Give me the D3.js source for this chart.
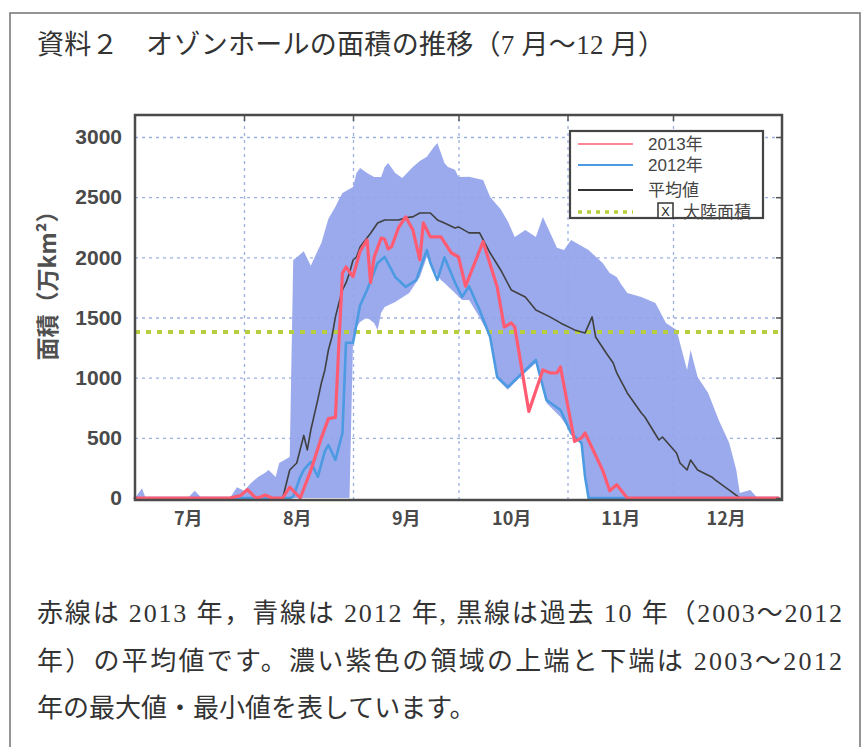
<!DOCTYPE html>
<html>
<head>
<meta charset="utf-8" />
<title>オゾンホールの面積の推移</title>
<script src="https://cdn.jsdelivr.net/npm/d3@7/dist/d3.min.js"></script>
<style>
    body { margin: 0; background: #fff; }
    svg { display: block; }
    .grid line { stroke: #9db0e4; stroke-width: 1.3; stroke-dasharray: 3,4; }
    .grid .domain { display: none; }
    .line { fill: none; stroke-linejoin: round; stroke-linecap: round; }
    .serif { font-family: "Liberation Serif", "Noto Sans CJK JP", serif; fill: #333; }
</style>
</head>
<body>
<script>
// month labels and y ticks
const months = ["7月", "8月", "9月", "10月", "11月", "12月"];
const yTicks = [0, 500, 1000, 1500, 2000, 2500, 3000];
const continentArea = 1380;  // 大陸面積 (万km²)

// 2013年 (red)
const s2013 = [["07-01",0],["07-28",0],["07-31",20],["08-02",70],["08-04",10],["08-05",0],["08-07",25],["08-09",0],
    ["08-12",0],["08-14",90],["08-17",0],["08-20",230],["08-23",500],["08-25",660],["08-27",670],["08-28",1290],
    ["08-29",1870],["08-30",1920],["09-01",1840],["09-03",2050],["09-05",2145],["09-06",1790],["09-07",2000],
    ["09-09",2160],["09-10",2150],["09-11",2070],["09-12",2090],["09-14",2250],["09-16",2336],["09-18",2230],
    ["09-20",1980],["09-21",2286],["09-23",2170],["09-26",2170],["09-29",2036],["10-01",2003],["10-03",1760],
    ["10-08",2130],["10-12",1754],["10-14",1421],["10-16",1455],["10-17",1421],["10-21",720],["10-25",1064],
    ["10-27",1040],["10-29",1039],["10-30",1089],["11-03",470],["11-05",500],["11-06",540],["11-11",230],
    ["11-13",60],["11-15",110],["11-18",0],["12-31",0]];

// 2012年 (blue)
const s2012 = [["07-01",0],["08-14",0],["08-15",10],["08-17",175],["08-18",233],["08-20",300],["08-22",175],
    ["08-24",390],["08-25",440],["08-27",316],["08-29",540],["08-30",1290],["09-01",1290],["09-03",1600],
    ["09-05",1729],["09-08",1953],["09-10",2003],["09-13",1837],["09-16",1754],["09-19",1812],["09-22",2061],
    ["09-23",1953],["09-25",1812],["09-27",2000],["09-30",1790],["10-02",1671],["10-04",1760],["10-07",1563],
    ["10-10",1338],["10-12",1006],["10-15",923],["10-18",1006],["10-23",1147],["10-26",815],["10-30",731],
    ["11-02",540],["11-05",457],["11-06",175],["11-07",0],["12-31",0]];

// 平均値 2003-2012 (black)
const sAvg = [["07-01",0],["08-12",0],["08-14",233],["08-16",291],["08-18",520],["08-19",400],["08-20",565],
    ["08-22",820],["08-23",956],["08-24",1064],["08-25",1230],["08-26",1338],["08-27",1505],["08-28",1621],
    ["08-29",1729],["08-30",1787],["08-31",1870],["09-01",1978],["09-02",2003],["09-03",2086],["09-06",2200],
    ["09-08",2286],["09-10",2311],["09-14",2311],["09-16",2330],["09-18",2336],["09-20",2369],["09-23",2369],
    ["09-25",2311],["09-27",2286],["09-30",2244],["10-01",2253],["10-04",2203],["10-07",2203],["10-10",2036],
    ["10-13",1895],["10-16",1729],["10-20",1671],["10-23",1563],["10-27",1505],["10-30",1455],["11-03",1397],
    ["11-06",1372],["11-08",1505],["11-09",1338],["11-12",1205],["11-14",1122],["11-15",1039],["11-18",873],
    ["11-22",707],["11-23",673],["11-27",482],["11-28",507],["12-02",374],["12-03",291],["12-05",233],
    ["12-06",316],["12-08",233],["12-12",175],["12-13",150],["12-17",66],["12-20",0],["12-31",0]];

// max / min of 2003-2012 (purple band)
const bandMax = [["07-01",0],["07-03",80],["07-04",0],["07-16",0],["07-18",60],["07-20",0],["07-28",0],
    ["07-30",90],["08-01",60],["08-03",125],["08-05",175],["08-07",210],["08-08",233],["08-10",175],["08-11",291],
    ["08-14",340],["08-15",1978],["08-16",2000],["08-18",2050],["08-20",1930],["08-22",2060],["08-23",2120],
    ["08-25",2320],["08-27",2420],["08-28",2480],["08-29",2535],["09-01",2585],["09-02",2700],["09-03",2743],
    ["09-05",2700],["09-07",2668],["09-09",2668],["09-10",2750],["09-11",2785],["09-13",2700],["09-15",2660],
    ["09-18",2751],["09-20",2800],["09-22",2835],["09-24",2918],["09-25",2950],["09-27",2785],["09-28",2751],
    ["09-30",2727],["10-01",2668],["10-04",2670],["10-08",2643],["10-10",2502],["10-13",2400],["10-15",2300],
    ["10-17",2170],["10-20",2228],["10-23",2170],["10-25",2336],["10-29",2080],["10-31",2061],["11-02",2145],
    ["11-07",2061],["11-11",1953],["11-13",1870],["11-15",1837],["11-16",1787],["11-18",1704],["11-22",1671],
    ["11-26",1621],["11-29",1455],["12-02",1397],["12-05",1064],["12-06",1230],["12-08",1006],["12-11",873],
    ["12-14",648],["12-17",457],["12-19",233],["12-20",42],["12-23",67],["12-25",0],["12-31",0]];
const bandMin = [["07-01",0],["08-31",0],["09-01",1300],["09-02",1420],["09-03",1463],["09-05",1500],["09-07",1455],
    ["09-08",1397],["09-09",1540],["09-10",1588],["09-13",1629],["09-17",1704],["09-20",1837],["09-22",2003],
    ["09-24",1895],["09-26",1812],["09-27",1787],["09-30",1704],["10-02",1646],["10-04",1646],["10-07",1500],
    ["10-10",1338],["10-12",990],["10-15",900],["10-18",990],["10-23",1122],["10-26",790],["10-30",673],
    ["11-01",590],["11-05",440],["11-06",160],["11-07",0],["12-31",0]];

const W = 866, H = 747;
const plot = { left: 135, right: 782, top: 115, bottom: 500 };
const parseDay = d3.timeParse('%Y-%m-%d');
const toPts = arr => arr.map(d => ({ date: parseDay('2013-' + d[0]), v: d[1] }));

const x = d3.scaleTime()
    .domain([new Date(2013, 6, 1), new Date(2014, 0, 1)])
    .range([plot.left, plot.right]);
const y = d3.scaleLinear().domain([0, 3183]).range([498, plot.top]);

const svg = d3.select('body').append('svg')
    .attr('width', W).attr('height', H);

// outer frame
svg.append('rect')
    .attr('x', 10).attr('y', 13).attr('width', 850).attr('height', 760)
    .attr('fill', 'none').attr('stroke', '#7a7a7a').attr('stroke-width', 1.6);

// title
svg.append('text').attr('class', 'serif')
    .attr('x', 37).attr('y', 54)
    .style('font-size', '27px')
    .attr('textLength', 628).attr('lengthAdjust', 'spacing')
    .text('資料２　オゾンホールの面積の推移（7 月～12 月）');

// plot background
svg.append('rect')
    .attr('x', plot.left).attr('y', plot.top)
    .attr('width', plot.right - plot.left).attr('height', plot.bottom - plot.top)
    .attr('fill', '#fff');

// grid
svg.append('g').attr('class', 'grid')
    .attr('transform', 'translate(' + plot.left + ',0)')
    .call(d3.axisLeft(y).tickValues(yTicks.slice(1)).tickSize(-(plot.right - plot.left)).tickFormat(''));
const monthStarts = d3.range(7, 12).map(m => new Date(2013, m, 1));
svg.append('g').attr('class', 'grid')
    .attr('transform', 'translate(0,' + plot.bottom + ')')
    .call(d3.axisBottom(x).tickValues(monthStarts).tickSize(-(plot.bottom - plot.top)).tickFormat(''));

// band of max / min
const line = d3.line().x(d => x(d.date)).y(d => y(d.v));
const bandPts = toPts(bandMax).concat(toPts(bandMin).reverse());
svg.append('path')
    .attr('d', line(bandPts) + 'Z')
    .attr('fill', '#93a3ea')
    .attr('fill-opacity', 0.92);

// continent area line
svg.append('line')
    .attr('x1', plot.left).attr('x2', plot.right)
    .attr('y1', y(continentArea)).attr('y2', y(continentArea))
    .attr('stroke', '#b7cf3e').attr('stroke-width', 4).attr('stroke-dasharray', '5,6');

// series
svg.append('path').datum(toPts(sAvg)).attr('class', 'line')
    .attr('stroke', '#404040').attr('stroke-width', 1.6).attr('d', line);
svg.append('path').datum(toPts(s2012)).attr('class', 'line')
    .attr('stroke', '#4b9ae2').attr('stroke-width', 2.6).attr('d', line);
svg.append('path').datum(toPts(s2013)).attr('class', 'line')
    .attr('stroke', '#ff5b72').attr('stroke-width', 3.2).attr('d', line);

// frame + inner ticks
svg.append('g')
    .attr('transform', 'translate(' + plot.right + ',0)')
    .call(d3.axisRight(y).tickValues(yTicks).tickSize(-6).tickFormat(''))
    .call(g => g.select('.domain').remove())
    .selectAll('line').attr('stroke', '#555').attr('stroke-width', 1.5);
svg.append('g')
    .attr('transform', 'translate(0,' + plot.top + ')')
    .call(d3.axisTop(x).tickValues(monthStarts).tickSize(-6).tickFormat(''))
    .call(g => g.select('.domain').remove())
    .selectAll('line').attr('stroke', '#555').attr('stroke-width', 1.5);
svg.append('rect')
    .attr('x', plot.left).attr('y', plot.top)
    .attr('width', plot.right - plot.left).attr('height', plot.bottom - plot.top)
    .attr('fill', 'none').attr('stroke', '#4a4a4a').attr('stroke-width', 2.5);

// y axis labels
const yAxis = svg.append('g')
    .attr('transform', 'translate(' + plot.left + ',0)')
    .call(d3.axisLeft(y).tickValues(yTicks).tickSize(0).tickPadding(13).tickFormat(d3.format('d')));
yAxis.select('.domain').remove();
yAxis.selectAll('text')
    .style('font-family', '"Liberation Sans", Arial, sans-serif')
    .style('font-size', '21px').style('font-weight', 'bold').attr('fill', '#4a4a4a');

// x axis labels (mid-month)
const midMonths = d3.range(6, 12).map(m => new Date(2013, m, 16));
const xAxis = svg.append('g')
    .attr('transform', 'translate(0,' + plot.bottom + ')')
    .call(d3.axisBottom(x).tickValues(midMonths).tickSize(0).tickPadding(12)
        .tickFormat((d, i) => months[i]));
xAxis.select('.domain').remove();
xAxis.selectAll('text')
    .style('font-family', '"Noto Sans CJK JP", sans-serif')
    .style('font-size', '18px').style('font-weight', 'bold').attr('fill', '#4a4a4a');

// y axis title
svg.append('text')
    .attr('transform', 'translate(56,280) rotate(-90)')
    .attr('text-anchor', 'middle')
    .style('font-family', '"Noto Sans CJK JP", sans-serif')
    .style('font-size', '23px').style('font-weight', 'bold')
    .attr('fill', '#505050')
    .text('面積（万km²）');

// legend
const lg = svg.append('g').attr('transform', 'translate(570,131)');
lg.append('rect').attr('width', 193).attr('height', 87)
    .attr('fill', '#fff').attr('stroke', '#444').attr('stroke-width', 2.2);
const legendItems = [
    { label: '2013年', color: '#ff5b72', w: 1.5, dash: null, y: 13 },
    { label: '2012年', color: '#4b9ae2', w: 2, dash: null, y: 34 },
    { label: '平均値', color: '#333', w: 2, dash: null, y: 59 },
    { label: '大陸面積', color: '#b7cf3e', w: 3.5, dash: '4,5', y: 81 }
];
legendItems.forEach((d, i) => {
    lg.append('line').attr('x1', 8).attr('x2', 63).attr('y1', d.y).attr('y2', d.y)
        .attr('stroke', d.color).attr('stroke-width', d.w)
        .attr('stroke-dasharray', d.dash);
    lg.append('text')
        .attr('x', i === 3 ? 113 : 78).attr('y', d.y + 6)
        .style('font-family', '"Liberation Sans", "Noto Sans CJK JP", sans-serif')
        .style('font-size', '17px').attr('fill', '#444')
        .text(d.label);
});
lg.append('rect').attr('x', 88).attr('y', 72).attr('width', 15).attr('height', 15)
    .attr('fill', '#fff').attr('stroke', '#333').attr('stroke-width', 1.5);
lg.append('text').attr('x', 95.5).attr('y', 85).attr('text-anchor', 'middle')
    .style('font-family', '"DejaVu Sans", sans-serif').style('font-size', '13px')
    .attr('fill', '#333').text('X');

// notes
const notes = [
    { t: '赤線は 2013 年，青線は 2012 年, 黒線は過去 10 年（2003～2012', y: 622, len: 805 },
    { t: '年）の平均値です。濃い紫色の領域の上端と下端は 2003～2012', y: 670, len: 805 },
    { t: '年の最大値・最小値を表しています。', y: 717, len: null }
];
notes.forEach(n => {
    const t = svg.append('text').attr('class', 'serif')
        .attr('x', 37).attr('y', n.y)
        .style('font-size', '26px')
        .text(n.t);
    if (n.len) t.attr('textLength', n.len).attr('lengthAdjust', 'spacing');
});
</script>
</body>
</html>
